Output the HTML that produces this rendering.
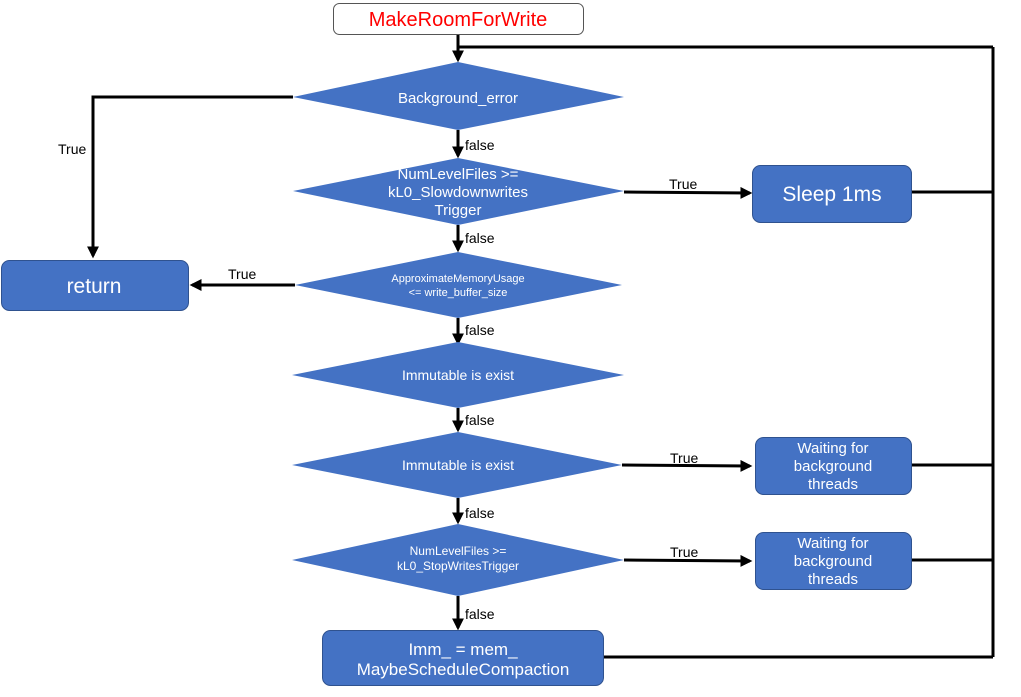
<!DOCTYPE html>
<html><head><meta charset="utf-8"><style>
html,body{margin:0;padding:0;background:#fff;}
svg{display:block;font-family:"Liberation Sans",sans-serif;}
</style></head><body>
<svg width="1021" height="697" viewBox="0 0 1021 697" xmlns="http://www.w3.org/2000/svg">
<defs>
<marker id="a" markerWidth="4" markerHeight="4" refX="3.2" refY="2" orient="auto" markerUnits="strokeWidth">
<path d="M0,0 L4,2 L0,4 z" fill="#000"/></marker>
</defs>
<g stroke="#000" stroke-width="3" fill="none">
<polyline points="993,47 993,657"/>
<polyline points="993,47 458,47"/>
<line x1="458" y1="34" x2="458" y2="60" marker-end="url(#a)"/>
<polyline points="293,97 93,97 93,256" marker-end="url(#a)"/>
<line x1="458" y1="130" x2="458" y2="156" marker-end="url(#a)"/>
<line x1="624" y1="192" x2="750" y2="193" marker-end="url(#a)"/>
<line x1="911" y1="192" x2="993" y2="192"/>
<line x1="458" y1="225" x2="458" y2="250" marker-end="url(#a)"/>
<line x1="295" y1="285" x2="192" y2="285" marker-end="url(#a)"/>
<line x1="458" y1="318" x2="458" y2="343" marker-end="url(#a)"/>
<line x1="458" y1="408" x2="458" y2="430" marker-end="url(#a)"/>
<line x1="622" y1="465" x2="750" y2="466" marker-end="url(#a)"/>
<line x1="911" y1="465" x2="993" y2="465"/>
<line x1="458" y1="498" x2="458" y2="522" marker-end="url(#a)"/>
<line x1="624" y1="560" x2="750" y2="561" marker-end="url(#a)"/>
<line x1="911" y1="560" x2="993" y2="560"/>
<line x1="458" y1="596" x2="458" y2="628" marker-end="url(#a)"/>
<line x1="603" y1="657" x2="993" y2="657"/>
</g>
<rect x="333.5" y="3.5" width="250" height="31" rx="6" fill="#fff" stroke="#555" stroke-width="1"/>
<text x="458" y="26" font-size="20" fill="#ff0000" text-anchor="middle">MakeRoomForWrite</text>
<g fill="#4472C4">
<polygon points="293,97 458,62 624,97 458,130"/>
<polygon points="293,191 458,158 624,191 458,225"/>
<polygon points="295,285 458,252 622,285 458,318"/>
<polygon points="292,375 458,342 624,375 458,408"/>
<polygon points="292,465 458,432 622,465 458,498"/>
<polygon points="292,560 458,524 624,560 458,596"/>
</g>
<g fill="#4472C4" stroke="#2F528F" stroke-width="1">
<rect x="752.5" y="165.5" width="159" height="57" rx="8"/>
<rect x="1.5" y="260.5" width="187" height="50" rx="8"/>
<rect x="755.5" y="437.5" width="156" height="57" rx="8"/>
<rect x="755.5" y="532.5" width="156" height="57" rx="8"/>
<rect x="322.5" y="630.5" width="281" height="55" rx="8"/>
</g>
<g fill="#fff" text-anchor="middle">
<text x="458" y="103" font-size="15">Background_error</text>
<text x="458" y="179" font-size="15">NumLevelFiles &gt;=</text>
<text x="458" y="197" font-size="15">kL0_Slowdownwrites</text>
<text x="458" y="215" font-size="15">Trigger</text>
<text x="458" y="282" font-size="11">ApproximateMemoryUsage</text>
<text x="458" y="296" font-size="11">&lt;= write_buffer_size</text>
<text x="458" y="380" font-size="14">Immutable is exist</text>
<text x="458" y="470" font-size="14">Immutable is exist</text>
<text x="458" y="555" font-size="12">NumLevelFiles &gt;=</text>
<text x="458" y="570" font-size="12">kL0_StopWritesTrigger</text>
<text x="832" y="201" font-size="21">Sleep 1ms</text>
<text x="94" y="293" font-size="21">return</text>
<text x="833" y="453" font-size="15">Waiting for</text>
<text x="833" y="471" font-size="15">background</text>
<text x="833" y="489" font-size="15">threads</text>
<text x="833" y="548" font-size="15">Waiting for</text>
<text x="833" y="566" font-size="15">background</text>
<text x="833" y="584" font-size="15">threads</text>
<text x="463" y="655" font-size="17">Imm_ = mem_</text>
<text x="463" y="675" font-size="17">MaybeScheduleCompaction</text>
</g>
<g fill="#000" font-size="14">
<text x="465" y="150">false</text>
<text x="465" y="243">false</text>
<text x="465" y="335">false</text>
<text x="465" y="425">false</text>
<text x="465" y="518">false</text>
<text x="465" y="619">false</text>
<text x="58" y="154">True</text>
<text x="669" y="189">True</text>
<text x="228" y="279">True</text>
<text x="670" y="463">True</text>
<text x="670" y="557">True</text>
</g>
</svg>
</body></html>
